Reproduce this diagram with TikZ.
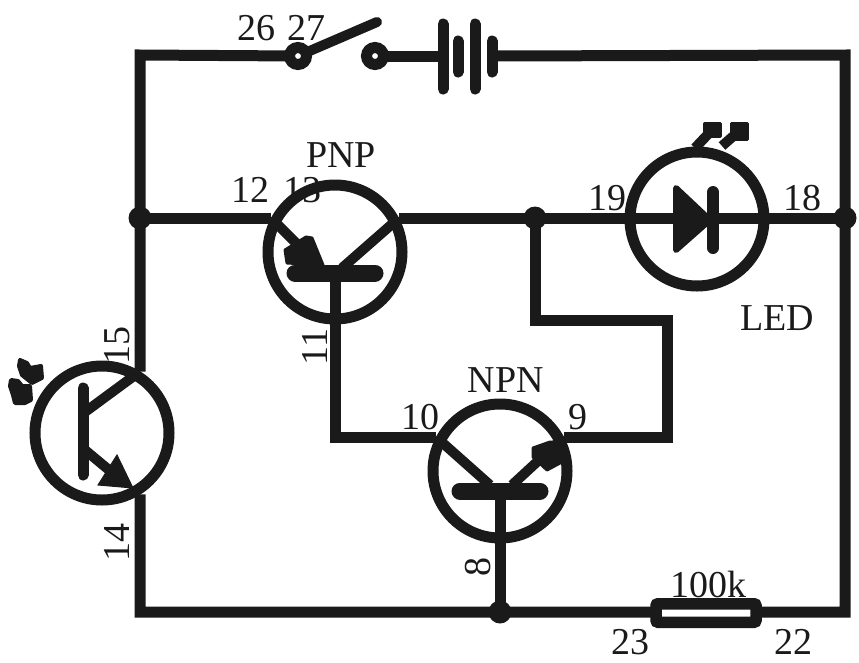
\documentclass[tikz,border=0pt]{standalone}
\usepackage{fontspec}
\setmainfont{Liberation Serif}
\definecolor{ink}{HTML}{1A1A1A}
\tikzset{
  wire/.style={draw=ink,line width=11pt},
  lead/.style={draw=ink,line width=10pt},
  plate/.style={draw=ink,line width=11pt,line cap=round},
  bar/.style={draw=ink,line width=17pt,line cap=round},
  blob/.style={draw=ink,fill=ink,line width=3pt,line join=round},
  ring/.style={circle,draw=ink,line width=11pt,minimum size=134pt,inner sep=0pt},
  lbl/.style={inner sep=0pt,text=ink,font=\fontsize{38}{38}\selectfont},
  dot/.style={circle,fill=ink,minimum size=23pt,inner sep=0pt},
  pin/.style={circle,draw=ink,fill=white,line width=11pt,minimum size=17pt,inner sep=0pt},
}
\begin{document}
\begin{tikzpicture}[x=1pt,y=-1pt]
\useasboundingbox[fill=white] (0,0) rectangle (859,662);
% named points
\coordinate (tl) at (140,55);
\coordinate (tr) at (845,55);
\coordinate (bl) at (140,612);
\coordinate (br) at (845,612);
\coordinate (jl) at (140,218);
\coordinate (jm) at (535,218);
\coordinate (jr) at (845,218);
\coordinate (jb) at (500,612);
\coordinate (sa) at (298,56);
\coordinate (sb) at (375,56);
\coordinate (st) at (377,22);
\coordinate (ba) at (443,56);
\coordinate (bb) at (492,56);
\coordinate (c1) at (667,320);
\coordinate (c2) at (535,320);
\coordinate (c3) at (667,437);
\coordinate (c4) at (335,437);
% labels
\node[lbl] (l26) at (256,28) {26};
\node[lbl] (l27) at (306,28) {27};
\node[lbl] (l12) at (250,190) {12};
\node[lbl] (l13) at (302,190) {13};
\node[lbl] (lpnp) at (341,155) {PNP};
\node[lbl] (lnpn) at (506,380) {NPN};
\node[lbl] (l10) at (420,417) {10};
\node[lbl] (l9) at (578,417) {9};
\node[lbl] (l19) at (607,198) {19};
\node[lbl] (l18) at (802,198) {18};
\node[lbl] (lled) at (777,318) {LED};
\node[lbl] (l100k) at (708,584) {100k};
\node[lbl] (l23) at (630,642) {23};
\node[lbl] (l22) at (793,642) {22};
\node[lbl,rotate=90] (l15) at (117,345) {15};
\node[lbl,rotate=90] (l11) at (315,347) {11};
\node[lbl,rotate=90] (l14) at (117,542) {14};
\node[lbl,rotate=90] (l8) at (478,567) {8};
% rings
\node[ring] (pnp) at (335,252) {};
\node[ring] (npn) at (500,471) {};
\node[ring] (photo) at (102,433) {};
\node[ring] (led) at (697,219) {};
% points where wires meet the rings
\coordinate (pe) at (pnp.152 |- jl);
\coordinate (pc) at (pnp.28 |- jl);
\coordinate (ne) at (npn.28 |- c3);
\coordinate (nc) at (npn.152 |- c3);
\coordinate (qc) at (jl |- photo.58);
\coordinate (qe) at (jl |- photo.-58);
% wires
\draw[wire] (sb) -- (ba);
\draw[wire] (jl) -- (pe);
\draw[wire] (pc) -- (jr);
\draw[wire] (qc) -- (tl) -- (sa);
\draw[wire] (bb) -- (tr) -- (br) -- (bl) -- (qe);
\draw[wire] (jm) -- (c2) -- (c1) -- (c3) -- (ne);
\draw[wire] (nc) -- (c4) -- (pnp.south);
% PNP
\draw[bar] (295,273) -- (375,273);
\draw[wire] (335,273) -- (pnp.south);
\draw[lead] (pe) -- (315,262);
\draw[lead] (pc) -- (342,268);
\draw[blob] (285,250) -- (306,237) -- (312,238) -- (323,265) -- (287,263) -- cycle;
% NPN
\draw[bar] (460,491) -- (540,491);
\draw[wire] (500,491) -- (jb);
\draw[lead] (nc) -- (490,485);
\draw[lead] (ne) -- (512,485);
\draw[blob] (533,448) -- (550,442) -- (563,443) -- (560,463) -- (547,470) -- (533,457) -- cycle;
% phototransistor
\draw[plate] (83,388) -- (83,475);
\draw[lead] (85,412) -- (qc);
\draw[lead] (85,450) -- (115,475);
\draw[draw=ink,fill=ink,line width=1pt] (117,455) -- (98,485) -- (133,488) -- cycle;
\draw[blob,line width=4pt] (20,360) -- (27,363) -- (30,368) -- (41,366) -- (42,378) -- (32,383) -- (22,375) -- (19,366) -- cycle;
\draw[blob,line width=4pt] (11,380) -- (18,381) -- (22,386) -- (30,386) -- (31,400) -- (25,403) -- (15,403) -- (13,395) -- (10,386) -- cycle;
% LED
\draw[draw=ink,fill=ink,line width=6pt,line join=round] (676,188) -- (676,250) -- (710,220) -- cycle;
\draw[plate,line width=12pt] (713,192) -- (713,248);
\draw[lead] (695,148) -- (712,130);
\draw[lead] (722,146) -- (738,132);
\draw[blob] (704,123) -- (720,123) -- (720,136) -- (704,136) -- cycle;
\draw[blob] (731,123) -- (747,123) -- (747,139) -- (731,139) -- cycle;
% junctions
\node[dot] (dl) at (jl) {};
\node[dot] (dm) at (jm) {};
\node[dot] (dr) at (jr) {};
\node[dot] (db) at (jb) {};
% switch
\draw[lead,line cap=round] (sa) -- (st);
\node[pin] (pa) at (sa) {};
\node[pin] (pb) at (sb) {};
% battery
\draw[plate] (443,24) -- (443,89);
\draw[plate] (458,41) -- (458,72);
\draw[plate] (475,24) -- (475,89);
\draw[plate] (492,41) -- (492,72);
% resistor
\node[draw=ink,fill=white,line width=11.5pt,rounded corners=2pt,minimum width=100pt,minimum height=18.5pt,inner sep=0pt] (res) at (706,613) {};
\end{tikzpicture}
\end{document}
